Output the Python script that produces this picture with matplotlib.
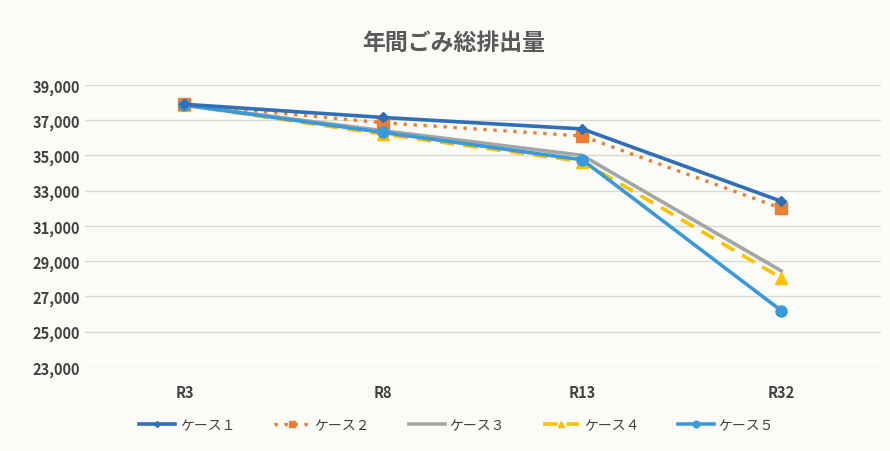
import numpy as np
import matplotlib.pyplot as plt
from matplotlib.ticker import FuncFormatter

plt.rcParams['font.family'] = ['Noto Sans CJK JP', 'DejaVu Sans']

# データ（グラフから読み取った概算値）
years = ['R3', 'R8', 'R13', 'R32']
case1 = [37900, 37150, 36500, 32400]
case2 = [37900, 36850, 36100, 32000]
case3 = [37850, 36400, 35000, 28450]
case4 = [37850, 36200, 34650, 28050]
case5 = [37850, 36300, 34750, 26200]
labels = ['ケース１', 'ケース２', 'ケース３', 'ケース４', 'ケース５']

fig = plt.figure(figsize=(8.9, 4.52), dpi=100)
fig.patch.set_facecolor('#fbfbf7')
ax = fig.add_axes([0.0955, 0.186, 0.894, 0.624])
ax.set_facecolor('#fbfbf7')

x = np.arange(len(years))
ax.plot(x, case1, color='#2e6fb8', lw=2.6, marker='D', ms=5, label=labels[0], zorder=5)
ax.plot(x, case2, color='#ed7d31', lw=2.4, ls=(0, (1, 2)), marker='s', ms=8, label=labels[1], zorder=4)
ax.plot(x, case3, color='#a5a5a5', lw=2.6, label=labels[2], zorder=3)
ax.plot(x, case4, color='#ffc000', lw=2.6, ls=(0, (4, 2.5)), marker='^', ms=8, label=labels[3], zorder=3)
ax.plot(x, case5, color='#3a9ad9', lw=2.6, marker='o', ms=8, label=labels[4], zorder=4)

ax.set_xlim(-0.5, 3.5)
ax.set_ylim(23000, 39000)
ax.set_yticks(np.arange(23000, 39001, 2000))
ax.yaxis.set_major_formatter(FuncFormatter(lambda v, p: f'{int(v):,}'))
ax.set_xticks(x)
ax.set_xticklabels(years)
ax.grid(axis='y', color='#d9d9d9', lw=1)
ax.set_axisbelow(True)
for s in ax.spines.values():
    s.set_visible(False)
ax.tick_params(length=0, colors='#404040', labelsize=10.5)
ax.tick_params(axis='x', pad=12)
for t in ax.get_xticklabels() + ax.get_yticklabels():
    t.set_fontweight('bold')

fig.text(0.51, 0.905, '年間ごみ総排出量', ha='center', va='center',
         fontsize=16.5, fontweight='bold', color='#595959')

leg = fig.legend(loc='center', bbox_to_anchor=(0.513, 0.058), ncol=5, frameon=False,
                 fontsize=10, handlelength=2.6, columnspacing=2.8, handletextpad=0.3,
                 markerscale=0.6)
for t in leg.get_texts():
    t.set_color('#404040')

fig.savefig('out.png', dpi=100, facecolor=fig.get_facecolor())
